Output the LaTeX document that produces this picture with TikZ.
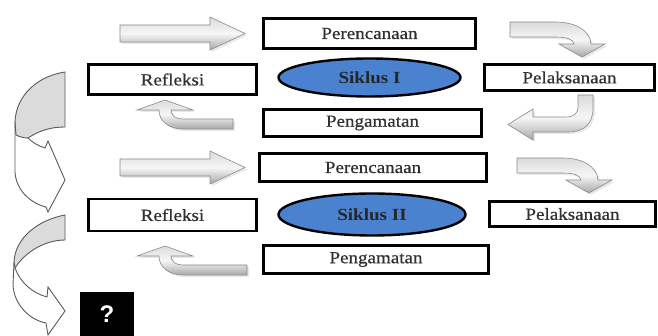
\documentclass[tikz,border=0pt]{standalone}
\usepackage{fontspec}
\setmainfont{Liberation Serif}[FakeStretch=1.12]
\newfontfamily\boxfont{Liberation Serif}[FakeStretch=1.12, FakeBold=0.6]
\newfontfamily\qfont{Liberation Sans}
\usetikzlibrary{shapes.geometric}
\definecolor{txt}{HTML}{303030}
\definecolor{sikblue}{HTML}{4A82D0}
\definecolor{arrline}{HTML}{8A8A8A}
\definecolor{bandline}{HTML}{5A5A5A}
\tikzset{
  box/.style={draw=black, line width=2.6pt, fill=white, inner sep=0pt, text=txt,
    font=\boxfont\fontsize{17}{19}\selectfont},
  cyc/.style={ellipse, draw=black, line width=2.4pt, fill=sikblue, inner sep=0pt,
    text=black!85, font=\fontsize{17}{19}\selectfont\bfseries},
  blk/.style={draw=arrline, line width=0.6pt, top color=gray!28, bottom color=gray!68, middle color=gray!7},
  shadowfill/.style={fill=gray!40, opacity=0.45},
  bandback/.style={draw=bandline, line width=0.9pt, fill=gray!28},
  bandfront/.style={draw=bandline, line width=0.9pt},
}
\begin{document}
\begin{tikzpicture}[x=1pt,y=-1pt]
\useasboundingbox (0,0) rectangle (658,336);

% ---------- nodes ----------
\node[box, minimum width=212pt, minimum height=30pt] (per1) at (369.5,33.5) {Perencanaan};
\node[box, minimum width=168pt, minimum height=30pt] (ref1) at (172.5,79.5) {Refleksi};
\node[cyc, minimum width=182pt, minimum height=38pt] (sik1) at (369.5,77.5) {Siklus I};
\node[box, minimum width=170pt, minimum height=26pt] (pel1) at (569.5,77.5) {Pelaksanaan};
\node[box, minimum width=218pt, minimum height=27pt] (pen1) at (372.5,123) {Pengamatan};

\node[box, minimum width=227pt, minimum height=28pt] (per2) at (373,167.5) {Perencanaan};
\node[box, minimum width=168pt, minimum height=32pt] (ref2) at (172.5,215) {Refleksi};
\node[cyc, minimum width=187pt, minimum height=42pt] (sik2) at (372,214.5) {Siklus II};
\node[box, minimum width=166pt, minimum height=25pt] (pel2) at (572.5,214) {Pelaksanaan};
\node[box, minimum width=225pt, minimum height=28pt] (pen2) at (376,259.5) {Pengamatan};

\node[fill=black, minimum width=54pt, minimum height=44pt, inner sep=0pt, text=white,
  font=\qfont\bfseries\fontsize{24}{26}\selectfont] (q) at (107,314) {?};

% ---------- block arrows ----------
\def\Spath{(120,25) -- (210,25) -- (210,17) -- (245,33.5) -- (210,50) -- (210,42) -- (120,42) -- cycle}
\def\Apath{(510,22) -- (555,22) .. controls (575,22) and (590,30) .. (591,44) -- (605,44) -- (582,57) -- (559,44) -- (574,44) .. controls (573,39) and (567,37) .. (555,37) -- (510,37) -- cycle}
\def\Bpath{(578,95) -- (593,95) -- (593,108) .. controls (593,124) and (584,132) .. (568,132) -- (533,132) -- (533,140) -- (508,124.5) -- (533,109) -- (533,117) -- (566,117) .. controls (574,117) and (578,113) .. (578,107) -- cycle}
\def\Cpath#1{(#1,119) -- (183,119) .. controls (176,119) and (171,116) .. (171,110) -- (193,110) -- (165,100) -- (137,110) -- (159,110) .. controls (159,122) and (170,129) .. (183,129) -- (#1,129) -- cycle}

% straight arrows
\fill[shadowfill, shift={(2,2)}] \Spath;
\path[blk] \Spath;
\begin{scope}[shift={(0,134)}]
  \fill[shadowfill, shift={(2,2)}] \Spath;
  \path[blk] \Spath;
\end{scope}

% bent arrows, right
\fill[shadowfill, shift={(2,2)}] \Apath;
\path[blk] \Apath;
\begin{scope}[shift={(7,136)}]
  \fill[shadowfill, shift={(2,2)}] \Apath;
  \path[blk] \Apath;
\end{scope}
\fill[shadowfill, shift={(2,2)}] \Bpath;
\path[blk] \Bpath;

% bent arrows, left
\fill[shadowfill, shift={(2,2)}] \Cpath{233};
\path[blk] \Cpath{233};
\begin{scope}[shift={(0,146)}]
  \fill[shadowfill, shift={(2,2)}] \Cpath{247};
  \path[blk] \Cpath{247};
\end{scope}

% ---------- curved arrows at the left ----------
\path[bandback] (65,72) .. controls (38,76) and (16,95) .. (15,122) -- (16,135)
  .. controls (20,137) and (24,138) .. (28,138) .. controls (40,130) and (52,127) .. (65,127) -- cycle;
\path[bandfront] (15,122) -- (15,172) .. controls (16,190) and (30,203) .. (46,207)
  -- (48,212) -- (65,180) -- (48,141) -- (45,148) .. controls (38,146) and (32,142) .. (28,138);

\path[bandback] (65,215) .. controls (38,220) and (15,238) .. (14,262) -- (15,268)
  .. controls (25,252) and (45,240) .. (65,240) -- cycle;
\path[bandfront] (14,262) -- (13,285) .. controls (14,305) and (30,320) .. (46,323)
  -- (48,335) -- (65,311) -- (48,287) -- (47,297) .. controls (32,293) and (20,282) .. (15,268);

\end{tikzpicture}
\end{document}
